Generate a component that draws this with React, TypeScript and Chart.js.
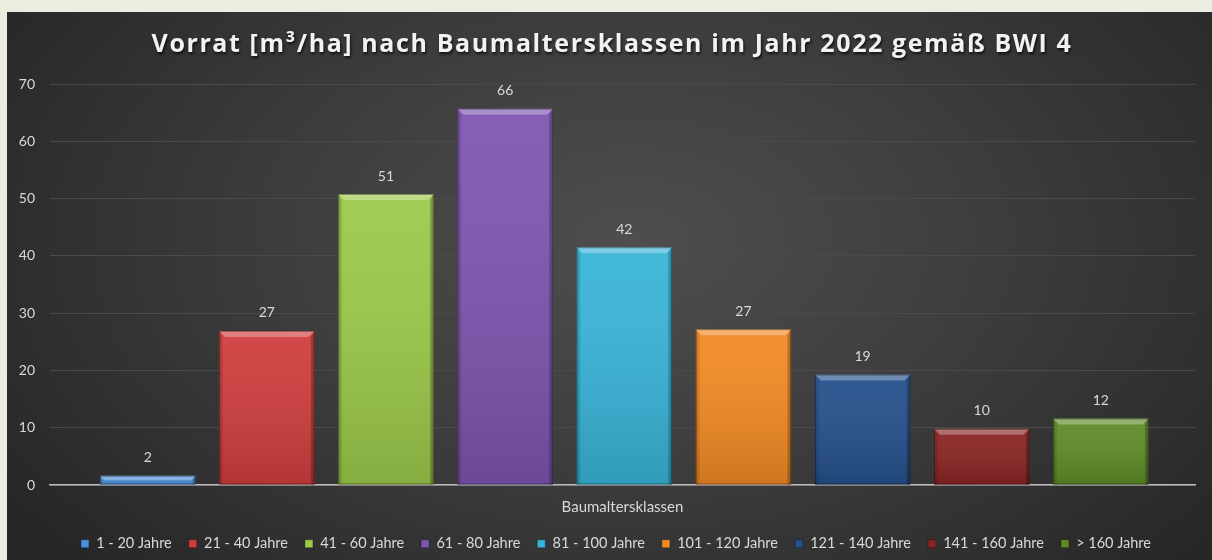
import React, { useEffect, useRef } from 'react';
import { Chart, registerables } from 'chart.js';

Chart.register(...registerables);

const chartTitle = 'Vorrat [m³/ha] nach Baumaltersklassen im Jahr 2022 gemäß BWI 4';
const xAxisTitle = 'Baumaltersklassen';
const categories = [
  '1 - 20 Jahre',
  '21 - 40 Jahre',
  '41 - 60 Jahre',
  '61 - 80 Jahre',
  '81 - 100 Jahre',
  '101 - 120 Jahre',
  '121 - 140 Jahre',
  '141 - 160 Jahre',
  '> 160 Jahre',
];
const values = [1.6, 26.9, 50.8, 65.7, 41.5, 27.2, 19.3, 9.8, 11.6];
const colors = [
  '#4a8fdc',
  '#cf3d3d',
  '#9cc94a',
  '#7d55b0',
  '#38b4d8',
  '#f28a24',
  '#25508c',
  '#8a2424',
  '#5f8b27',
];
const yMin = 0;
const yMax = 70;
const yStep = 10;

const FONT = 'Lato, "Open Sans", sans-serif';

const bevelAndLabels = {
  id: 'bevelAndLabels',
  afterDatasetsDraw(chart: any) {
    const ctx = chart.ctx;
    const meta = chart.getDatasetMeta(0);
    meta.data.forEach((bar: any) => {
      const w = bar.width;
      const left = bar.x - w / 2;
      const right = bar.x + w / 2;
      const top = Math.min(bar.y, bar.base);
      const bottom = Math.max(bar.y, bar.base);
      const h = bottom - top;
      const b = Math.min(6, h / 2);
      ctx.save();
      const g = ctx.createLinearGradient(0, top, 0, bottom);
      g.addColorStop(0, 'rgba(255,255,255,0.06)');
      g.addColorStop(1, 'rgba(0,0,0,0.14)');
      ctx.fillStyle = g;
      ctx.fillRect(left, top, w, h);
      ctx.beginPath();
      ctx.moveTo(left, top);
      ctx.lineTo(right, top);
      ctx.lineTo(right - b, top + b);
      ctx.lineTo(left + b, top + b);
      ctx.closePath();
      ctx.fillStyle = 'rgba(255,255,255,0.3)';
      ctx.fill();
      ctx.beginPath();
      ctx.moveTo(left, top);
      ctx.lineTo(left + b * 0.6, top + b);
      ctx.lineTo(left + b * 0.6, bottom);
      ctx.lineTo(left, bottom);
      ctx.closePath();
      ctx.fillStyle = 'rgba(0,0,0,0.12)';
      ctx.fill();
      ctx.beginPath();
      ctx.moveTo(right, top);
      ctx.lineTo(right - b * 0.6, top + b);
      ctx.lineTo(right - b * 0.6, bottom);
      ctx.lineTo(right, bottom);
      ctx.closePath();
      ctx.fillStyle = 'rgba(0,0,0,0.22)';
      ctx.fill();
      ctx.strokeStyle = 'rgba(0,0,0,0.35)';
      ctx.lineWidth = 1;
      ctx.strokeRect(left + 0.5, top + 0.5, w - 1, h - 1);
      ctx.restore();
    });
    ctx.save();
    ctx.font = '14px ' + FONT;
    ctx.fillStyle = '#d9d9d9';
    ctx.textAlign = 'center';
    ctx.textBaseline = 'middle';
    meta.data.forEach((bar: any, i: number) => {
      ctx.fillText(String(Math.round(values[i])), bar.x, bar.y - 18);
    });
    ctx.restore();
  },
};

const boxStyle = {
  id: 'boxStyle',
  beforeDraw(chart: any) {
    const tb = chart.titleBlock;
    if (tb && !tb.__styled) {
      const orig = tb.draw.bind(tb);
      tb.draw = (...args: any[]) => {
        const ctx = chart.ctx;
        ctx.save();
        ctx.translate(11, 1);
        try {
          (ctx as any).letterSpacing = '1.6px';
        } catch (e) {}
        ctx.shadowColor = 'rgba(0,0,0,0.75)';
        ctx.shadowOffsetX = 1;
        ctx.shadowOffsetY = 2;
        ctx.shadowBlur = 3;
        orig(...args);
        ctx.restore();
      };
      tb.__styled = true;
    }
    const lg = chart.legend;
    if (lg && !lg.__styled) {
      const origL = lg.draw.bind(lg);
      lg.draw = (...args: any[]) => {
        const ctx = chart.ctx;
        ctx.save();
        ctx.translate(15, 1);
        origL(...args);
        ctx.restore();
      };
      lg.__styled = true;
    }
  },
};

export default function App() {
  const canvasRef = useRef<HTMLCanvasElement | null>(null);

  useEffect(() => {
    if (!canvasRef.current) return;
    const chart = new Chart(canvasRef.current, {
      type: 'bar',
      data: {
        datasets: [
          {
            data: values.map((v, i) => ({ x: i, y: v })),
            backgroundColor: colors,
            borderWidth: 0,
            categoryPercentage: 1,
            barPercentage: 0.8,
          } as any,
        ],
      },
      options: {
        animation: false,
        responsive: true,
        maintainAspectRatio: false,
        layout: { padding: { left: 0, right: 17, top: 0, bottom: 0 } },
        scales: {
          x: {
            type: 'linear',
            offset: false,
            min: -0.82,
            max: 8.79,
            grid: { display: false, offset: false },
            border: { display: true, color: '#bdbdbd', width: 1.5 },
            ticks: { display: false, stepSize: 1, includeBounds: false } as any,
            title: {
              display: true,
              text: xAxisTitle,
              color: '#d9d9d9',
              font: { family: FONT, size: 15 },
              padding: { top: 12, bottom: 2.5 },
            },
            afterFit: (s: any) => {
              s.height = 33.5;
            },
          },
          y: {
            min: yMin,
            max: yMax,
            ticks: {
              stepSize: yStep,
              color: '#d9d9d9',
              font: { family: FONT, size: 14 },
              padding: 15,
            },
            grid: { color: '#4a4a4a', drawTicks: false, lineWidth: 1 },
            border: { display: false },
            afterFit: (s: any) => {
              s.width = 43;
            },
          },
        },
        plugins: {
          title: {
            display: true,
            text: chartTitle,
            color: '#f2f2f2',
            font: { family: '"Open Sans", sans-serif', size: 25, weight: 'bold' },
            padding: { top: 17, bottom: 25 },
          },
          legend: {
            position: 'bottom',
            onClick: () => {},
            labels: {
              color: '#d9d9d9',
              font: { family: FONT, size: 14.5 },
              boxWidth: 8,
              boxHeight: 8,
              padding: 17,
              generateLabels: () =>
                categories.map((c, i) => ({
                  text: c,
                  fillStyle: colors[i],
                  strokeStyle: 'rgba(0,0,0,0.3)',
                  lineWidth: 1,
                  hidden: false,
                  index: i,
                  datasetIndex: 0,
                  fontColor: '#d9d9d9',
                })),
            },
          },
          tooltip: { enabled: false },
        },
      } as any,
      plugins: [bevelAndLabels, boxStyle],
    });
    return () => chart.destroy();
  }, []);

  return (
    <div
      style={{
        position: 'fixed',
        left: 0,
        top: 0,
        width: 1212,
        height: 560,
        background: '#eaeee0',
      }}
    >
      <div
        style={{
          position: 'absolute',
          left: 7,
          top: 12,
          width: 1205,
          height: 548,
          background:
            'radial-gradient(ellipse 62% 85% at 52% 42%, #4e4e4e 0%, #3e3e3e 45%, #272727 100%)',
        }}
      >
        <canvas ref={canvasRef} />
      </div>
    </div>
  );
}
